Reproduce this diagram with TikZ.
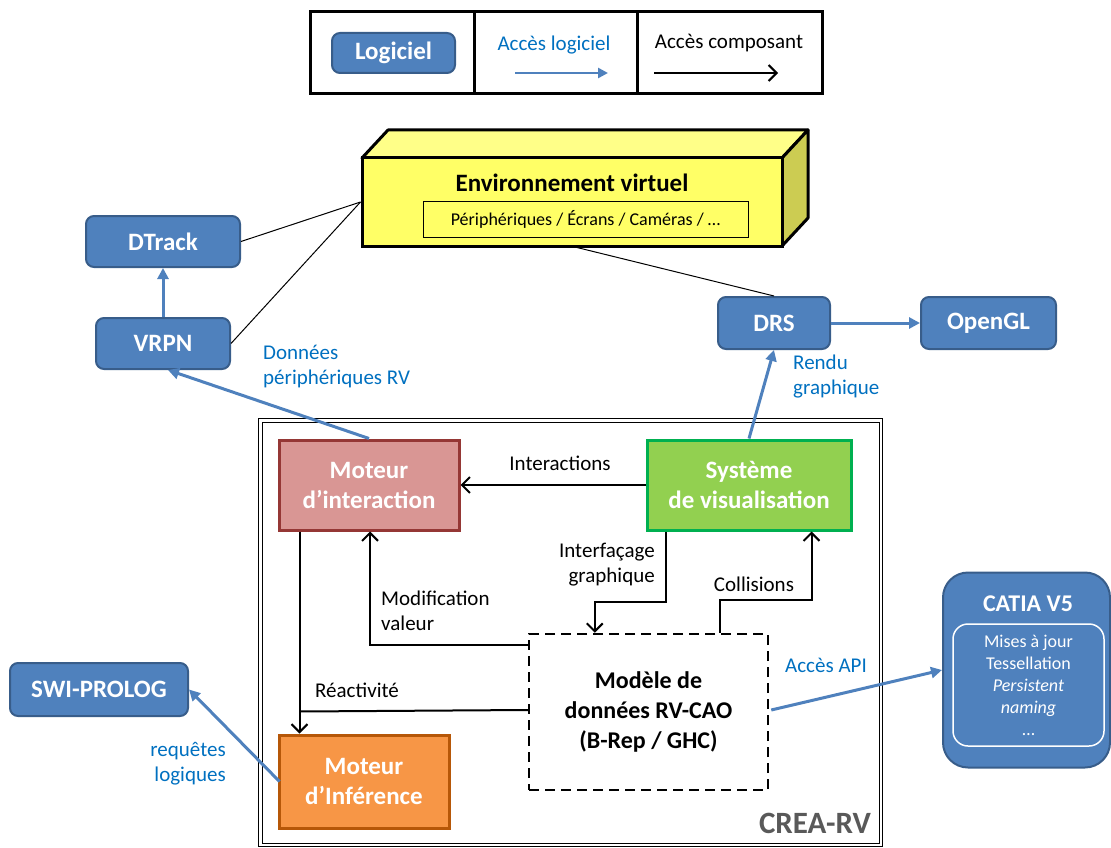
\documentclass[tikz,border=0pt]{standalone}
\usepackage{fontspec}
\setmainfont{Carlito}
\usetikzlibrary{arrows.meta,calc}
\definecolor{boxblue}{HTML}{4F81BD}
\definecolor{boxblueline}{HTML}{385D8A}
\definecolor{txtblue}{HTML}{0070C0}
\definecolor{interfill}{HTML}{D99694}
\definecolor{interline}{HTML}{953735}
\definecolor{visfill}{HTML}{92D050}
\definecolor{visline}{HTML}{00B050}
\definecolor{inffill}{HTML}{F79646}
\definecolor{infline}{HTML}{B65708}
\definecolor{envfront}{HTML}{FFFF66}
\definecolor{envtop}{HTML}{FFFF88}
\definecolor{envside}{HTML}{CCCC52}
\definecolor{creagray}{HTML}{595959}

\begin{document}
\begin{tikzpicture}[x=1pt,y=-1pt,
    logiciel/.style={rounded corners=8pt,fill=boxblue,draw=boxblueline,line width=2pt,
      text=white,font=\fontsize{25}{29}\selectfont\bfseries,inner sep=0pt},
    module/.style={line width=3pt,text=white,align=center,inner sep=0pt,
      font=\fontsize{25}{30}\selectfont\bfseries},
    bluelink/.style={boxblue,line width=3pt,-{Triangle[length=11pt,width=11pt]}},
    blacklink/.style={line width=2pt,-{Straight Barb[length=8pt,width=16pt]}},
    txt/.style={font=\fontsize{21}{25}\selectfont,inner sep=0pt,align=left},
    bluetxt/.style={txt,text=txtblue}]
  \useasboundingbox (0,0) rectangle (1111,848);

  % legende
  \draw[line width=3pt] (310,12) rectangle (822,94);
  \draw[line width=3pt] (474,12) -- (474,94) (637,12) -- (637,94);
  \node[logiciel,minimum width=123pt,minimum height=40pt] (leglog) at (393.5,53) {Logiciel};
  \node[bluetxt] (legsoft) at (554,45) {Accès logiciel};
  \node[txt] (legcomp) at (729,43) {Accès composant};
  \coordinate (ls1) at (515,73);
  \coordinate (ls2) at (608,73);
  \coordinate (lc1) at (654,73);
  \coordinate (lc2) at (778,73);
  \draw[boxblue,line width=2.5pt,-{Triangle[length=10pt,width=10pt]}] (ls1) -- (ls2);
  \draw[blacklink] (lc1) -- (lc2);

  % environnement virtuel en 3D
  \filldraw[fill=envtop,line width=3pt,line join=round] (362,158) -- (388,130) -- (808,130) -- (782,158) -- cycle;
  \filldraw[fill=envside,line width=3pt,line join=round] (782,158) -- (808,130) -- (808,218) -- (782,246) -- cycle;
  \node[draw,line width=3pt,fill=envfront,minimum width=420pt,minimum height=88pt] (env) at (572,202) {};
  \node[font=\fontsize{25}{30}\selectfont\bfseries] (envtitle) at (572,183) {Environnement virtuel};
  \node[draw,line width=1pt,minimum width=325pt,minimum height=36pt,
    font=\fontsize{18}{21}\selectfont] (devices) at (585.5,219) {Périphériques / Écrans / Caméras / …};

  % logiciels externes
  \node[logiciel,minimum width=154pt,minimum height=51pt] (dtrack) at (163,241.5) {DTrack};
  \node[logiciel,minimum width=134pt,minimum height=51pt] (vrpn) at (163,343.5) {VRPN};
  \node[logiciel,minimum width=112pt,minimum height=52pt] (drs) at (774,323) {DRS};
  \node[logiciel,minimum width=135pt,minimum height=52pt] (opengl) at (988.5,323) {OpenGL};
  \node[logiciel,minimum width=178pt,minimum height=53pt] (swi) at (99,689.5) {SWI-PROLOG};
  \node[logiciel,rounded corners=25pt,minimum width=167pt,minimum height=195pt] (catia) at (1026.5,670) {};
  \node[text=white,font=\fontsize{24}{28}\selectfont\bfseries] (catiatitle) at (1028,604) {CATIA V5};
  \node[draw=white,line width=1.5pt,rounded corners=15pt,minimum width=151pt,minimum height=122pt,
    text=white,align=center,font=\fontsize{18}{22}\selectfont] (catiainner) at (1028.5,685)
    {Mises à jour\\Tessellation\\\textit{Persistent}\\\textit{naming}\\…};

  \draw[line width=1pt] (dtrack.east) -- (env.west);
  \draw[line width=1pt] (vrpn.east) -- (env.west);
  \draw[line width=1pt] ($(env.south)+(5,0)$) -- (drs.north);

  % CREA-RV
  \draw[double,double distance=2.5pt,line width=1.2pt] (260.5,420.5) rectangle (881,845);
  \node[font=\fontsize{31}{36}\selectfont\bfseries,text=creagray] (crea) at (815,823) {CREA-RV};

  \node[module,fill=interfill,draw=interline,minimum width=180pt,minimum height=90pt] (inter) at (369,485) {Moteur\\d’interaction};
  \node[module,fill=visfill,draw=visline,minimum width=204pt,minimum height=90pt] (vis) at (749,485) {Système\\de visualisation};
  \node[module,fill=inffill,draw=infline,minimum width=170pt,minimum height=93pt] (infer) at (364,781.5) {Moteur\\d’Inférence};
  \node[draw,line width=2.5pt,dash pattern=on 10pt off 6pt,minimum width=239pt,minimum height=156pt,
    align=center,font=\fontsize{24}{30}\selectfont\bfseries] (model) at (648.5,712)
    {Modèle de\\données RV-CAO\\(B-Rep / GHC)};

  % acces composant
  \draw[blacklink] (vis.west) -- (inter.east);
  \draw[blacklink] ($(vis.south west)+(20,0)$) -- ++(0,70) -| ($(model.north west)+(67,0)$);
  \draw[blacklink] ($(model.north east)+(-49,0)$) -- ++(0,-33) -| ($(vis.south east)+(-41,0)$);
  \draw[blacklink] ($(model.north west)+(0,12)$) -| ($(inter.south)+(1,0)$);
  \draw[line width=2pt] ($(model.west)+(0,-2)$) -- ($(inter.south west)+(22,180)$);
  \draw[blacklink] ($(inter.south west)+(22,0)$) -- ($(infer.north west)+(22,0)$);
  \node[txt] (linter) at (560,463) {Interactions};
  \node[txt,align=right,anchor=east] (lgraph) at (655,565) {Interfaçage\\graphique};
  \node[txt] (lcoll) at (754,584) {Collisions};
  \node[txt,anchor=west] (lmodif) at (381,611) {Modification\\valeur};
  \node[txt] (lreact) at (357,690) {Réactivité};

  % acces logiciel
  \draw[bluelink] (vrpn.north) -- (dtrack.south);
  \draw[bluelink] (drs.east) -- (opengl.west);
  \draw[bluelink] (inter.north) -- ($(vrpn.south)+(5,0)$);
  \draw[bluelink] (vis.north) -- (drs.south);
  \draw[bluelink] ($(infer.west)+(2,0)$) -- (swi.east);
  \draw[bluelink] ($(model.east)+(2,-2)$) -- (catia.west);
  \node[bluetxt,anchor=west] (ldata) at (263,367) {Données\\périphériques RV};
  \node[bluetxt,anchor=west] (lrender) at (793,377) {Rendu\\graphique};
  \node[bluetxt,align=right,anchor=east] (lquery) at (226,764) {requêtes\\logiques};
  \node[bluetxt] (lapi) at (826,665) {Accès API};
\end{tikzpicture}
\end{document}
